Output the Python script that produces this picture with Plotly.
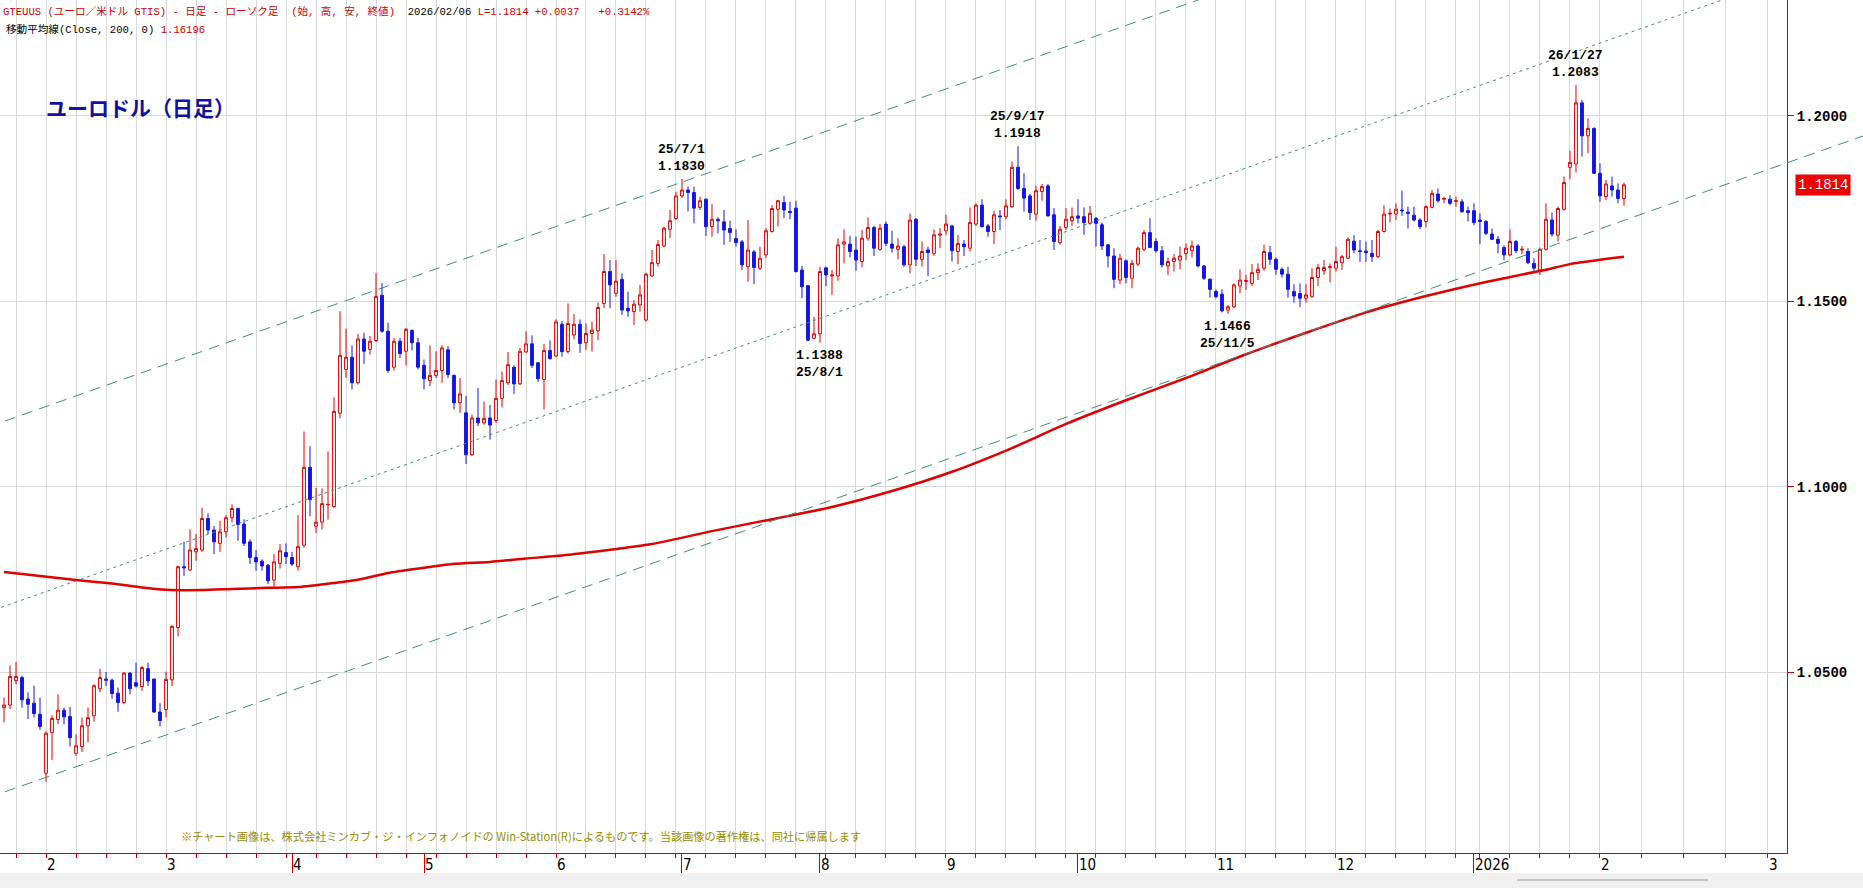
import pandas as pd
import plotly.graph_objects as go

# ---------------- data ----------------
holidays = ["2026-01-01"]
dates = [d.strftime("%Y-%m-%d") for d in pd.bdate_range("2025-01-23", "2026-02-06")
         if d.strftime("%Y-%m-%d") not in holidays]

opens = [
    1.0404, 1.0411, 1.0477, 1.0485, 1.0427, 1.0416, 1.0386,
    1.0227, 1.0337, 1.0372, 1.0397, 1.0380, 1.0281, 1.0299, 1.0355, 1.0382, 1.0455, 1.0481, 1.0478, 1.0443, 1.0418, 1.0497, 1.0471, 1.0461, 1.0509, 1.0481, 1.0392,
    1.0399, 1.0479, 1.0620, 1.0784, 1.0775, 1.0824, 1.0829, 1.0914, 1.0883, 1.0847, 1.0878, 1.0916, 1.0941, 1.0899, 1.0851, 1.0809, 1.0799, 1.0788, 1.0748, 1.0793, 1.0822,
    1.0809, 1.0784, 1.0842, 1.1052, 1.0893, 1.0904, 1.0951, 1.0946, 1.1198, 1.1316, 1.1349, 1.1280, 1.1398, 1.1370, 1.1394, 1.1516, 1.1419, 1.1322, 1.1392, 1.1365, 1.1421, 1.1388,
    1.1327, 1.1286, 1.1300, 1.1313, 1.1369, 1.1300, 1.1226, 1.1199, 1.1086, 1.1185, 1.1172, 1.1185, 1.1178, 1.1238, 1.1280, 1.1322, 1.1277, 1.1363, 1.1385, 1.1334, 1.1289, 1.1367,
    1.1352, 1.1438, 1.1364, 1.1409, 1.1438, 1.1388, 1.1413, 1.1420, 1.1494, 1.1580, 1.1521, 1.1559, 1.1481, 1.1472, 1.1490, 1.1449, 1.1568, 1.1602, 1.1649, 1.1694, 1.1723,
    1.1784, 1.1800, 1.1793, 1.1753, 1.1775, 1.1701, 1.1721, 1.1714, 1.1696, 1.1669, 1.1660, 1.1593, 1.1633, 1.1589, 1.1625, 1.1688, 1.1748, 1.1766, 1.1742, 1.1751, 1.1584, 1.1542, 1.1400,
    1.1412, 1.1590, 1.1568, 1.1568, 1.1654, 1.1654, 1.1638, 1.1607, 1.1670, 1.1699, 1.1640, 1.1708, 1.1654, 1.1640, 1.1647, 1.1598, 1.1721, 1.1613, 1.1638, 1.1629, 1.1678,
    1.1690, 1.1703, 1.1634, 1.1654, 1.1643, 1.1708, 1.1759, 1.1703, 1.1688, 1.1730, 1.1728, 1.1755, 1.1861, 1.1804, 1.1784, 1.1735, 1.1796, 1.1811, 1.1733, 1.1658, 1.1699, 1.1717,
    1.1730, 1.1728, 1.1710, 1.1724, 1.1706, 1.1652, 1.1622, 1.1557, 1.1609, 1.1562, 1.1600, 1.1640, 1.1685, 1.1661, 1.1636, 1.1595, 1.1607, 1.1611, 1.1629, 1.1636, 1.1649, 1.1595, 1.1559,
    1.1526, 1.1519, 1.1476, 1.1485, 1.1541, 1.1553, 1.1548, 1.1577, 1.1589, 1.1631, 1.1613, 1.1586, 1.1573, 1.1526, 1.1521, 1.1508, 1.1512, 1.1564, 1.1582, 1.1591,
    1.1589, 1.1604, 1.1616, 1.1662, 1.1636, 1.1635, 1.1629, 1.1620, 1.1688, 1.1735, 1.1735, 1.1746, 1.1740, 1.1732, 1.1719, 1.1715, 1.1753, 1.1789, 1.1775, 1.1775, 1.1769, 1.1768, 1.1744,
    1.1744, 1.1719, 1.1715, 1.1681, 1.1667, 1.1645, 1.1625, 1.1661, 1.1638, 1.1634, 1.1602, 1.1584, 1.1640, 1.1719, 1.1678, 1.1748, 1.1861, 1.1870, 1.2035, 1.1946, 1.1966,
    1.1845, 1.1782, 1.1811, 1.1800, 1.1777,
]
highs = [
    1.0431, 1.0518, 1.0527, 1.0490, 1.0445, 1.0463, 1.0431,
    1.0340, 1.0383, 1.0440, 1.0404, 1.0406, 1.0332, 1.0377, 1.0404, 1.0467, 1.0509, 1.0500, 1.0482, 1.0458, 1.0500, 1.0500, 1.0525, 1.0516, 1.0525, 1.0482, 1.0416,
    1.0501, 1.0626, 1.0787, 1.0851, 1.0885, 1.0872, 1.0943, 1.0928, 1.0894, 1.0908, 1.0923, 1.0952, 1.0943, 1.0912, 1.0858, 1.0829, 1.0804, 1.0791, 1.0818, 1.0845, 1.0847,
    1.0824, 1.0923, 1.1149, 1.1109, 1.0997, 1.0995, 1.1095, 1.1241, 1.1473, 1.1426, 1.1381, 1.1412, 1.1415, 1.1406, 1.1576, 1.1549, 1.1442, 1.1401, 1.1401, 1.1428, 1.1424, 1.1401,
    1.1343, 1.1381, 1.1365, 1.1381, 1.1379, 1.1302, 1.1293, 1.1244, 1.1194, 1.1266, 1.1229, 1.1220, 1.1289, 1.1311, 1.1363, 1.1327, 1.1374, 1.1419, 1.1408, 1.1336, 1.1385, 1.1394,
    1.1451, 1.1447, 1.1494, 1.1465, 1.1451, 1.1440, 1.1445, 1.1496, 1.1627, 1.1611, 1.1611, 1.1575, 1.1526, 1.1503, 1.1544, 1.1577, 1.1638, 1.1665, 1.1701, 1.1746, 1.1795,
    1.1830, 1.1809, 1.1809, 1.1782, 1.1777, 1.1762, 1.1726, 1.1746, 1.1717, 1.1694, 1.1665, 1.1719, 1.1638, 1.1647, 1.1697, 1.1759, 1.1773, 1.1784, 1.1768, 1.1771, 1.1595, 1.1544, 1.1458,
    1.1593, 1.1593, 1.1584, 1.1670, 1.1694, 1.1676, 1.1674, 1.1692, 1.1726, 1.1703, 1.1708, 1.1715, 1.1690, 1.1670, 1.1652, 1.1737, 1.1724, 1.1661, 1.1647, 1.1694, 1.1697,
    1.1733, 1.1706, 1.1679, 1.1665, 1.1753, 1.1764, 1.1775, 1.1708, 1.1744, 1.1746, 1.1775, 1.1876, 1.1918, 1.1845, 1.1789, 1.1811, 1.1816, 1.1816, 1.1751, 1.1703, 1.1751, 1.1753,
    1.1775, 1.1753, 1.1757, 1.1726, 1.1712, 1.1654, 1.1643, 1.1627, 1.1613, 1.1611, 1.1647, 1.1692, 1.1724, 1.1670, 1.1649, 1.1618, 1.1627, 1.1647, 1.1656, 1.1663, 1.1654, 1.1598, 1.1562,
    1.1532, 1.1532, 1.1490, 1.1548, 1.1586, 1.1571, 1.1600, 1.1602, 1.1652, 1.1649, 1.1618, 1.1591, 1.1593, 1.1546, 1.1548, 1.1546, 1.1589, 1.1600, 1.1611, 1.1602,
    1.1647, 1.1625, 1.1672, 1.1678, 1.1665, 1.1661, 1.1665, 1.1692, 1.1759, 1.1750, 1.1764, 1.1798, 1.1755, 1.1755, 1.1724, 1.1759, 1.1800, 1.1804, 1.1782, 1.1786, 1.1782, 1.1775, 1.1755,
    1.1764, 1.1737, 1.1719, 1.1696, 1.1676, 1.1651, 1.1694, 1.1665, 1.1649, 1.1643, 1.1616, 1.1645, 1.1764, 1.1739, 1.1755, 1.1836, 1.1906, 1.2083, 1.2043, 1.1993, 1.1969,
    1.1872, 1.1827, 1.1836, 1.1818, 1.1820,
]
lows = [
    1.0364, 1.0400, 1.0467, 1.0404, 1.0373, 1.0377, 1.0344,
    1.0204, 1.0263, 1.0359, 1.0359, 1.0299, 1.0274, 1.0284, 1.0310, 1.0366, 1.0445, 1.0462, 1.0428, 1.0393, 1.0413, 1.0440, 1.0458, 1.0449, 1.0462, 1.0390, 1.0353,
    1.0378, 1.0462, 1.0596, 1.0759, 1.0773, 1.0800, 1.0824, 1.0872, 1.0818, 1.0824, 1.0863, 1.0903, 1.0854, 1.0840, 1.0791, 1.0773, 1.0773, 1.0737, 1.0728, 1.0779, 1.0791,
    1.0786, 1.0773, 1.0835, 1.0920, 1.0875, 1.0884, 1.0911, 1.0943, 1.1184, 1.1293, 1.1262, 1.1275, 1.1331, 1.1356, 1.1390, 1.1415, 1.1307, 1.1313, 1.1347, 1.1327, 1.1367, 1.1316,
    1.1262, 1.1271, 1.1293, 1.1280, 1.1293, 1.1208, 1.1199, 1.1061, 1.1082, 1.1163, 1.1167, 1.1127, 1.1171, 1.1214, 1.1274, 1.1250, 1.1274, 1.1361, 1.1320, 1.1282, 1.1208, 1.1343,
    1.1349, 1.1350, 1.1359, 1.1397, 1.1361, 1.1368, 1.1364, 1.1395, 1.1481, 1.1481, 1.1512, 1.1463, 1.1458, 1.1436, 1.1472, 1.1445, 1.1566, 1.1593, 1.1645, 1.1670, 1.1719,
    1.1778, 1.1742, 1.1710, 1.1746, 1.1676, 1.1674, 1.1683, 1.1652, 1.1660, 1.1647, 1.1584, 1.1553, 1.1546, 1.1584, 1.1616, 1.1685, 1.1701, 1.1724, 1.1721, 1.1577, 1.1508, 1.1392, 1.1397,
    1.1388, 1.1541, 1.1517, 1.1555, 1.1602, 1.1618, 1.1582, 1.1591, 1.1663, 1.1622, 1.1636, 1.1649, 1.1631, 1.1613, 1.1593, 1.1575, 1.1595, 1.1593, 1.1568, 1.1622, 1.1643,
    1.1679, 1.1607, 1.1600, 1.1622, 1.1634, 1.1703, 1.1699, 1.1674, 1.1654, 1.1692, 1.1721, 1.1751, 1.1800, 1.1742, 1.1719, 1.1717, 1.1771, 1.1728, 1.1638, 1.1652, 1.1692, 1.1703,
    1.1710, 1.1679, 1.1706, 1.1647, 1.1638, 1.1591, 1.1535, 1.1546, 1.1548, 1.1535, 1.1595, 1.1634, 1.1643, 1.1631, 1.1591, 1.1571, 1.1580, 1.1586, 1.1611, 1.1618, 1.1591, 1.1557, 1.1510,
    1.1508, 1.1470, 1.1466, 1.1481, 1.1521, 1.1530, 1.1541, 1.1557, 1.1582, 1.1598, 1.1571, 1.1564, 1.1510, 1.1496, 1.1484, 1.1496, 1.1510, 1.1541, 1.1571, 1.1550,
    1.1580, 1.1584, 1.1613, 1.1629, 1.1606, 1.1606, 1.1606, 1.1616, 1.1685, 1.1712, 1.1719, 1.1730, 1.1696, 1.1715, 1.1694, 1.1699, 1.1750, 1.1766, 1.1764, 1.1759, 1.1755, 1.1739, 1.1715,
    1.1705, 1.1654, 1.1678, 1.1665, 1.1629, 1.1611, 1.1622, 1.1629, 1.1627, 1.1600, 1.1582, 1.1571, 1.1636, 1.1674, 1.1661, 1.1744, 1.1829, 1.1847, 1.1890, 1.1899, 1.1843,
    1.1768, 1.1773, 1.1782, 1.1764, 1.1757,
]
closes = [
    1.0411, 1.0488, 1.0488, 1.0425, 1.0413, 1.0388, 1.0353,
    1.0335, 1.0375, 1.0397, 1.0379, 1.0323, 1.0301, 1.0355, 1.0377, 1.0463, 1.0485, 1.0478, 1.0442, 1.0418, 1.0497, 1.0455, 1.0462, 1.0512, 1.0476, 1.0392, 1.0369,
    1.0480, 1.0623, 1.0784, 1.0781, 1.0829, 1.0833, 1.0914, 1.0883, 1.0851, 1.0878, 1.0916, 1.0941, 1.0898, 1.0847, 1.0809, 1.0797, 1.0786, 1.0746, 1.0797, 1.0827, 1.0811,
    1.0791, 1.0838, 1.1052, 1.0965, 1.0904, 1.0954, 1.0952, 1.1203, 1.1354, 1.1349, 1.1280, 1.1398, 1.1365, 1.1392, 1.1513, 1.1419, 1.1313, 1.1392, 1.1359, 1.1424, 1.1388, 1.1322,
    1.1291, 1.1300, 1.1313, 1.1374, 1.1302, 1.1226, 1.1250, 1.1086, 1.1185, 1.1172, 1.1184, 1.1166, 1.1238, 1.1286, 1.1329, 1.1277, 1.1365, 1.1385, 1.1327, 1.1291, 1.1367, 1.1345,
    1.1444, 1.1364, 1.1440, 1.1438, 1.1386, 1.1413, 1.1422, 1.1483, 1.1580, 1.1544, 1.1554, 1.1476, 1.1474, 1.1492, 1.1517, 1.1573, 1.1604, 1.1653, 1.1697, 1.1717, 1.1784,
    1.1800, 1.1793, 1.1751, 1.1771, 1.1701, 1.1721, 1.1717, 1.1692, 1.1685, 1.1658, 1.1598, 1.1638, 1.1591, 1.1616, 1.1690, 1.1750, 1.1771, 1.1746, 1.1739, 1.1580, 1.1539, 1.1395, 1.1412,
    1.1580, 1.1571, 1.1571, 1.1652, 1.1660, 1.1634, 1.1611, 1.1670, 1.1699, 1.1643, 1.1697, 1.1656, 1.1643, 1.1649, 1.1598, 1.1719, 1.1613, 1.1634, 1.1631, 1.1679, 1.1681,
    1.1708, 1.1636, 1.1656, 1.1647, 1.1712, 1.1759, 1.1701, 1.1688, 1.1733, 1.1728, 1.1757, 1.1861, 1.1804, 1.1778, 1.1739, 1.1798, 1.1809, 1.1730, 1.1661, 1.1694, 1.1721, 1.1728,
    1.1724, 1.1712, 1.1737, 1.1710, 1.1649, 1.1622, 1.1559, 1.1616, 1.1564, 1.1602, 1.1643, 1.1685, 1.1645, 1.1636, 1.1598, 1.1607, 1.1616, 1.1622, 1.1643, 1.1649, 1.1595, 1.1562, 1.1532,
    1.1512, 1.1474, 1.1485, 1.1544, 1.1557, 1.1556, 1.1577, 1.1586, 1.1634, 1.1613, 1.1586, 1.1573, 1.1532, 1.1514, 1.1508, 1.1517, 1.1564, 1.1591, 1.1591, 1.1593,
    1.1607, 1.1620, 1.1667, 1.1638, 1.1634, 1.1631, 1.1620, 1.1688, 1.1735, 1.1737, 1.1748, 1.1744, 1.1737, 1.1719, 1.1701, 1.1755, 1.1791, 1.1771, 1.1777, 1.1764, 1.1771, 1.1741, 1.1739,
    1.1712, 1.1715, 1.1683, 1.1667, 1.1656, 1.1625, 1.1661, 1.1636, 1.1640, 1.1604, 1.1589, 1.1640, 1.1721, 1.1681, 1.1750, 1.1820, 1.1874, 1.2035, 1.1946, 1.1966, 1.1845,
    1.1784, 1.1816, 1.1800, 1.1777, 1.1814,
]

# 200-day moving average at these dates
ma_dates = ["2025-01-23", "2025-01-31", "2025-02-10", "2025-02-18", "2025-02-25", "2025-03-03",
            "2025-03-11", "2025-03-18", "2025-03-26", "2025-04-02", "2025-04-10", "2025-04-16",
            "2025-04-23", "2025-05-01", "2025-05-08", "2025-05-16", "2025-05-26", "2025-06-03",
            "2025-06-24", "2025-07-08", "2025-07-22", "2025-08-05", "2025-08-19", "2025-09-02",
            "2025-09-16", "2025-09-29", "2025-10-13", "2025-10-27", "2025-11-10", "2025-11-24",
            "2025-12-08", "2025-12-22", "2026-01-06", "2026-01-20", "2026-01-26", "2026-02-06"]
ma_values = [1.0770, 1.0759, 1.0748, 1.0739, 1.0728, 1.0722,
             1.0721, 1.0724, 1.0727, 1.0729, 1.0740, 1.0749,
             1.0767, 1.0781, 1.0792, 1.0797, 1.0806, 1.0814,
             1.0845, 1.0880, 1.0912, 1.0945, 1.0988, 1.1040,
             1.1104, 1.1169, 1.1233, 1.1293, 1.1357, 1.1415,
             1.1470, 1.1514, 1.1552, 1.1585, 1.1600, 1.16196]
ma_label = "1.16196"

# trend channel lines: two anchor points each
channel_start_dates = ["2025-01-23", "2025-01-23", "2025-01-23"]
channel_start_prices = [1.1176, 1.0677, 1.0176]
channel_end_dates = ["2025-10-01", "2026-02-06", "2026-02-06"]
channel_end_prices = [1.2198, 1.2219, 1.1718]
channel_styles = ["11px,7px", "3px,4px", "11px,7px"]

# high / low callouts
callout_dates = ["2025-07-01", "2025-08-01", "2025-09-17", "2025-11-05", "2026-01-27"]
callout_values = [1.1830, 1.1388, 1.1918, 1.1466, 1.2083]
callout_kinds = ["high", "low", "high", "low", "high"]

future_month_starts = ["2026-03-02"]

# ---------------- positions ----------------
pos = {d: i for i, d in enumerate(dates)}
xs = list(range(len(dates)))
last_date = pd.Timestamp(dates[-1])
last_pos = len(dates) - 1


def future_pos(d):
    return last_pos + (pd.Timestamp(d) - last_date).days


month_pos, month_txt = [], []
seen = set()
for d in dates:
    t = pd.Timestamp(d)
    key = (t.year, t.month)
    if key in seen:
        continue
    seen.add(key)
    if t.day <= 7:
        month_pos.append(pos[d])
        month_txt.append(str(t.year) if t.month == 1 else str(t.month))
for d in future_month_starts:
    month_pos.append(future_pos(d))
    month_txt.append(str(pd.Timestamp(d).month))

week_pos = [pos[d] for d in dates if pd.Timestamp(d).weekday() == 0]
for d in pd.date_range(last_date + pd.Timedelta(days=1), periods=40, freq="D"):
    if d.weekday() == 0:
        week_pos.append(future_pos(d))

RED = "#e00000"
BLUE = "#1414e6"
GREEN = "#3f8f7c"

FIG_W, FIG_H = 1863, 888
W_PLOT = 1787.0          # right edge of price area (y axis line)
H_PLOT = 853.0           # bottom edge of price area (x axis line)
XMIN, XMAX = -0.667, 297.17
YMIN, YMAX = 1.00119, 1.23123
X2MAX = XMIN + (XMAX - XMIN) * FIG_W / W_PLOT

fig = go.Figure()
# channel lines on a full-width companion axis (same scale), so they run past the price axis
for d1, p1, d2, p2, dash in zip(channel_start_dates, channel_start_prices,
                                channel_end_dates, channel_end_prices, channel_styles):
    x1, x2 = pos[d1], pos[d2]
    k = (p2 - p1) / (x2 - x1)
    xa, xb = XMIN - 2, X2MAX + 2
    fig.add_trace(go.Scatter(
        x=[xa, xb], y=[p1 + k * (xa - x1), p1 + k * (xb - x1)], xaxis="x2", yaxis="y2",
        mode="lines", line=dict(color=GREEN, width=1, dash=dash),
        showlegend=False, hoverinfo="skip"))

fig.add_trace(go.Candlestick(
    x=xs, open=opens, high=highs, low=lows, close=closes,
    increasing=dict(line=dict(color=RED, width=1), fillcolor="white"),
    decreasing=dict(line=dict(color=BLUE, width=1), fillcolor=BLUE),
    whiskerwidth=0, showlegend=False, hoverinfo="skip",
))
fig.add_trace(go.Scatter(
    x=[pos[d] for d in ma_dates], y=ma_values, mode="lines",
    line=dict(color=RED, width=2.5, shape="spline", smoothing=0.6),
    showlegend=False, hoverinfo="skip",
))

shapes = []
shapes.append(dict(type="rect", xref="paper", yref="paper", x0=0, x1=1,
                   y0=-(FIG_H - H_PLOT) / H_PLOT, y1=-(873 - H_PLOT) / H_PLOT,
                   fillcolor="#f0f0f0", line=dict(width=0), layer="above"))
shapes.append(dict(type="line", xref="paper", yref="paper", x0=1517 / FIG_W, x1=1708 / FIG_W,
                   y0=-(880 - H_PLOT) / H_PLOT, y1=-(880 - H_PLOT) / H_PLOT,
                   line=dict(color="#9a9a9a", width=1), layer="above"))

annotations = []
hdr_font = dict(family="Liberation Mono, Noto Sans CJK JP", size=10.6, color="black")
chg = closes[-1] - closes[-2]
pct = chg / closes[-2] * 100
nb = "\u00a0"
line1 = (f"<span style='color:#d00000'>GTEUUS (ユーロ／米ドル GTIS) - 日足 - ローソク足{nb}{nb}(始, 高, 安, 終値)</span>"
         f"{nb}{nb}<span style='color:black'>{pd.Timestamp(dates[-1]).strftime('%Y/%m/%d')}</span>{nb}"
         f"<span style='color:#d00000'>L={closes[-1]:.4f} {chg:+.4f}{nb}{nb}{nb}{pct:+.4f}%</span>")
annotations.append(dict(text=line1, xref="paper", yref="paper", x=0, y=1 - 11 / H_PLOT,
                        xanchor="left", yanchor="middle", xshift=1, showarrow=False, font=hdr_font))
line2 = f"移動平均線(Close, 200, 0){nb}<span style='color:#d00000'>{ma_label}</span>"
annotations.append(dict(text=line2, xref="paper", yref="paper", x=0, y=1 - 29 / H_PLOT,
                        xanchor="left", yanchor="middle", xshift=4, showarrow=False, font=hdr_font))
annotations.append(dict(text="<b>ユーロドル（日足）</b>", xref="paper", yref="paper",
                        x=44 / FIG_W, y=1 - 107 / H_PLOT, xanchor="left", yanchor="middle",
                        showarrow=False, font=dict(family="Noto Sans CJK JP", size=21, color="#1212a0")))
annotations.append(dict(text="※チャート画像は、株式会社ミンカブ・ジ・インフォノイドの Win-Station(R)によるものです。当該画像の著作権は、同社に帰属します",
                        xref="paper", yref="paper", x=179 / FIG_W, y=1 - 836 / H_PLOT,
                        xanchor="left", yanchor="middle", showarrow=False,
                        font=dict(family="Noto Sans CJK JP", size=11.2, color="#968c00")))

call_font = dict(family="Liberation Mono, DejaVu Sans Mono", size=13, color="black")
for d, v, kind in zip(callout_dates, callout_values, callout_kinds):
    t = pd.Timestamp(d)
    dtxt = f"{t.year % 100}/{t.month}/{t.day}"
    vtxt = f"{v:.4f}"
    if kind == "high":
        annotations.append(dict(text=f"<b>{dtxt}<br>{vtxt}</b>", x=pos[d], y=v, xref="x", yref="y",
                                xanchor="center", yanchor="bottom", yshift=3, showarrow=False,
                                font=call_font, align="center"))
    else:
        annotations.append(dict(text=f"<b>{vtxt}<br>{dtxt}</b>", x=pos[d], y=v, xref="x", yref="y",
                                xanchor="center", yanchor="top", yshift=-3, showarrow=False,
                                font=call_font, align="center"))

for p, txt in zip(month_pos, month_txt):
    annotations.append(dict(text=txt, x=p, y=0, xref="x", yref="paper", xanchor="left",
                            yanchor="top", xshift=-1, yshift=-1, showarrow=False,
                            font=dict(family="Liberation Sans Narrow, DejaVu Sans Condensed, sans-serif",
                                      size=15, color="black")))

annotations.append(dict(text=f"{closes[-1]:.4f}", x=W_PLOT / FIG_W, y=closes[-1], xref="paper", yref="y",
                        xanchor="left", yanchor="middle", xshift=8, showarrow=False,
                        bgcolor="#f00000", borderpad=2,
                        font=dict(family="Liberation Mono, DejaVu Sans Mono", size=14, color="white")))

fig.update_layout(
    width=FIG_W, height=FIG_H,
    margin=dict(l=0, r=0, t=0, b=FIG_H - H_PLOT, pad=0),
    paper_bgcolor="white", plot_bgcolor="rgba(0,0,0,0)",
    showlegend=False, hovermode=False,
    boxgap=0.32,
    shapes=shapes, annotations=annotations,
    xaxis=dict(
        domain=[0, W_PLOT / FIG_W], anchor="y",
        range=[XMIN, XMAX], showgrid=False, zeroline=False,
        showline=True, linecolor="#d00000", linewidth=1,
        tickmode="array", tickvals=month_pos, ticktext=[""] * len(month_pos),
        ticks="outside", ticklen=20, tickcolor="#d00000", tickwidth=1,
        showticklabels=False,
        minor=dict(tickmode="array", tickvals=week_pos, ticks="outside", ticklen=4,
                   tickcolor="#d00000", showgrid=True, gridcolor="#d9d9d9", gridwidth=1),
        rangeslider=dict(visible=False), fixedrange=True,
    ),
    yaxis=dict(
        anchor="x", side="right", range=[YMIN, YMAX], tickmode="linear", tick0=1.0, dtick=0.05,
        tickformat=".4f", showgrid=True, gridcolor="#d9d9d9", gridwidth=1,
        zeroline=False, showline=True, linecolor="#d00000", linewidth=1,
        ticks="outside", ticklen=6, tickcolor="#d00000",
        tickfont=dict(family="Liberation Mono, DejaVu Sans Mono", size=14, color="black", weight="bold"),
        fixedrange=True,
    ),
    xaxis2=dict(domain=[0, 1], anchor="y2", range=[XMIN, X2MAX], visible=False,
                showgrid=False, zeroline=False, fixedrange=True),
    yaxis2=dict(domain=[0, 1], anchor="x2", range=[YMIN, YMAX], visible=False,
                showgrid=False, zeroline=False, fixedrange=True),
)

fig.write_html("out.html", config={"displayModeBar": False},
               post_script="document.body.style.margin='0';document.body.style.overflow='hidden';")
